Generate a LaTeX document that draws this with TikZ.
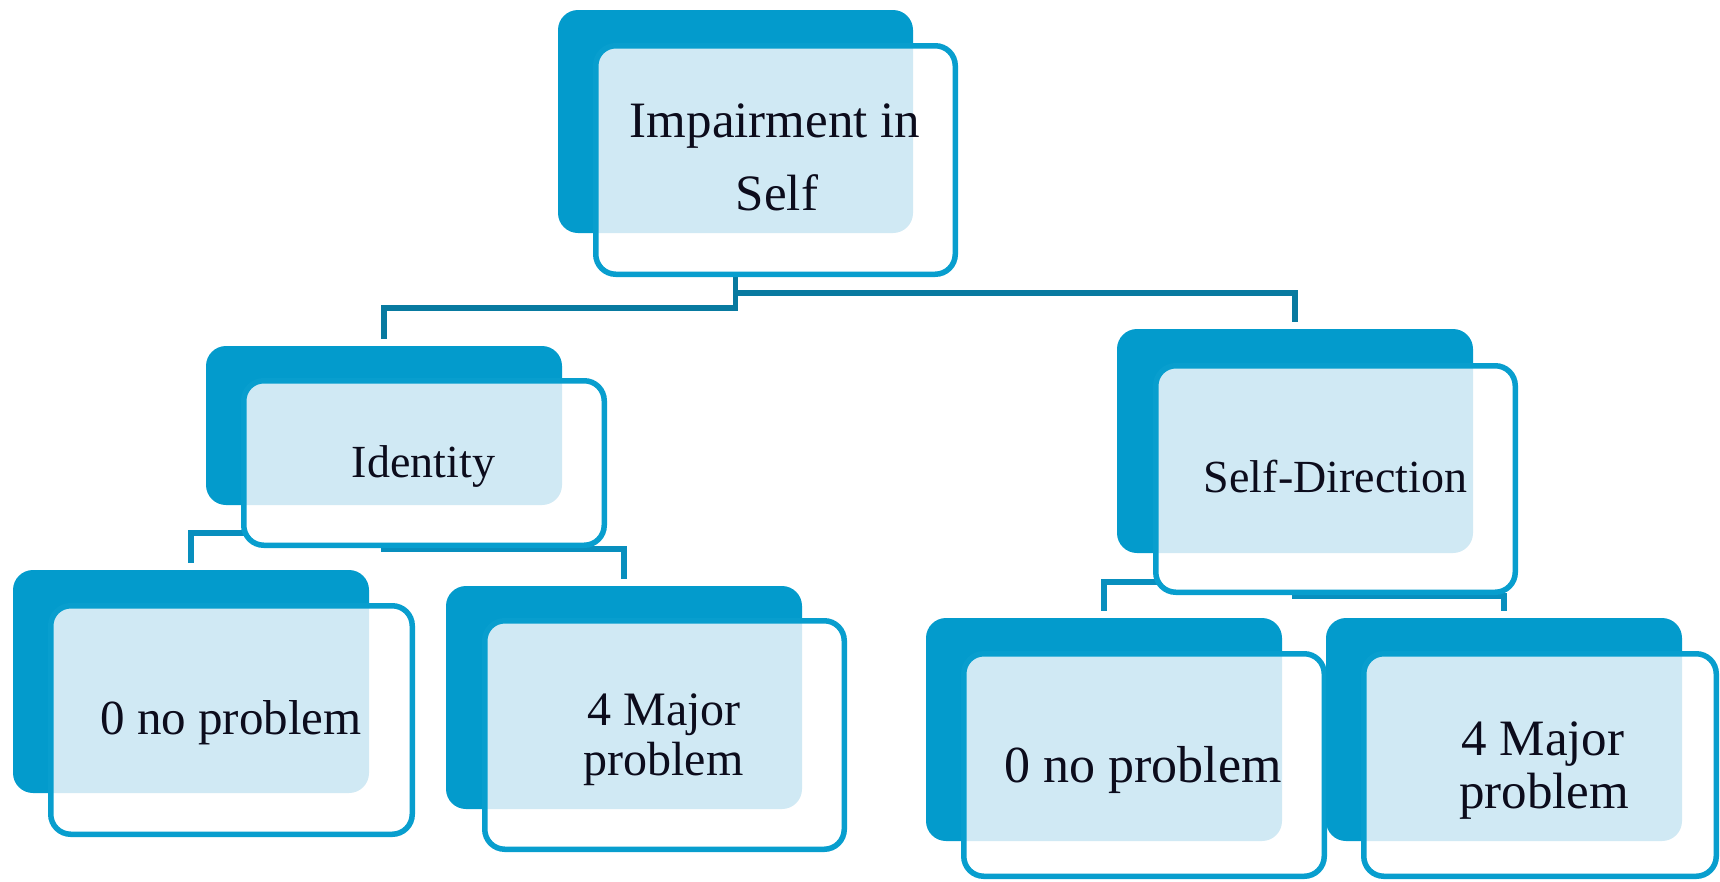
\documentclass[tikz,border=0pt]{standalone}
\usepackage{fontspec}
\setmainfont{Liberation Serif}
\usetikzlibrary{fit}
\pgfdeclarelayer{background}
\pgfsetlayers{background,main}
\definecolor{boxdark}{RGB}{3,155,204}
\definecolor{boxedge}{RGB}{8,158,206}
\definecolor{patblue}{RGB}{208,233,244}
\definecolor{conntop}{RGB}{8,122,160}
\definecolor{connlow}{RGB}{8,143,190}
\definecolor{inktext}{RGB}{12,12,28}
\tikzset{
  darkbox/.style={fill=boxdark, rounded corners=20pt, inner sep=0pt, outer sep=0pt},
  frontbox/.style={draw=boxedge, line width=5.5pt, rounded corners=20pt, inner sep=0pt, outer sep=0pt},
  conn/.style={line width=5.5pt, line join=miter, line cap=butt},
  conna/.style={conn, draw=conntop},
  connb/.style={conn, draw=connlow},
  lbl/.style={text=inktext, inner sep=0pt, outer sep=0pt, anchor=base},
}
% #1 name, #2-#5 dark box corners, #6-#9 front box path corners
\newcommand\unitbox[9]{%
  \node[darkbox, fit={(#2,#3) (#4,#5)}] (#1d) {};
  \fill[white, rounded corners=20pt] (#6,#7) rectangle (#8,#9);
  \begin{scope}
    \clip[rounded corners=20pt] (#2,#3) rectangle (#4,#5);
    \fill[patblue, rounded corners=20pt] (#6,#7) rectangle (#8,#9);
  \end{scope}
  \node[frontbox, fit={(#6,#7) (#8,#9)}] (#1f) {};
}
\begin{document}
\begin{tikzpicture}[x=1pt, y=-1pt]
\useasboundingbox (0,0) rectangle (1720,881);

\unitbox{A}{558}{10}{913}{233}{595.75}{45.75}{955.25}{274.25}
\unitbox{B}{206}{346}{562}{505}{243.75}{380.75}{604.25}{545.25}
\unitbox{C}{13}{570}{369}{793}{50.75}{605.75}{412.25}{834.25}
\unitbox{D}{446}{586}{802}{809}{484.75}{620.75}{844.25}{849.25}
\unitbox{E}{1117}{329}{1473}{553}{1155.75}{365.75}{1515.25}{592.25}
\unitbox{F}{926}{618}{1282}{841}{963.75}{653.75}{1324.25}{876.25}
\unitbox{G}{1326}{618}{1682}{841}{1363.75}{653.75}{1716.25}{876.25}

% labels
\node[lbl, font=\fontsize{51}{60}\selectfont] (tA1) at (775,137) {Impairment in};
\node[lbl, font=\fontsize{51}{60}\selectfont] (tA2) at (777,210) {Self};
\node[lbl, font=\fontsize{46}{54}\selectfont] (tB) at (423.5,477) {Identity};
\node[lbl, font=\fontsize{49}{56}\selectfont] (tC) at (231,734) {0 no problem};
\node[lbl, font=\fontsize{48}{56}\selectfont] (tD1) at (664,725) {4 Major};
\node[lbl, font=\fontsize{48}{56}\selectfont] (tD2) at (663.5,775) {problem};
\node[lbl, font=\fontsize{46}{54}\selectfont] (tE) at (1335.5,492) {Self-Direction};
\node[lbl, font=\fontsize{52}{60}\selectfont] (tF) at (1143,782) {0 no problem};
\node[lbl, font=\fontsize{51}{60}\selectfont] (tG1) at (1543,755) {4 Major};
\node[lbl, font=\fontsize{51}{60}\selectfont] (tG2) at (1544,808) {problem};

% connectors (behind the boxes)
\begin{pgfonlayer}{background}
\coordinate (hAB) at (0,308);
\coordinate (hAE) at (0,293);
\coordinate (hBC) at (0,533);
\coordinate (hBD) at (0,549);
\coordinate (hEF) at (0,582);
\coordinate (hEG) at (0,596);
\draw[conna] (Ad.south) -- (Ad.south |- hAB) -| ([yshift=7pt]Bd.north);
\draw[conna] (Ad.south) -- (Ad.south |- hAE) -| ([yshift=7pt]Ed.north);
\draw[connb] (Bd.south) -- (Bd.south |- hBC) -| ([yshift=7pt]Cd.north);
\draw[connb] (Bd.south) -- (Bd.south |- hBD) -| ([yshift=7pt]Dd.north);
\draw[connb] (Ed.south) -- (Ed.south |- hEF) -| ([yshift=7pt]Fd.north);
\draw[connb] (Ed.south) -- (Ed.south |- hEG) -| ([yshift=7pt]Gd.north);
\end{pgfonlayer}
\end{tikzpicture}
\end{document}
